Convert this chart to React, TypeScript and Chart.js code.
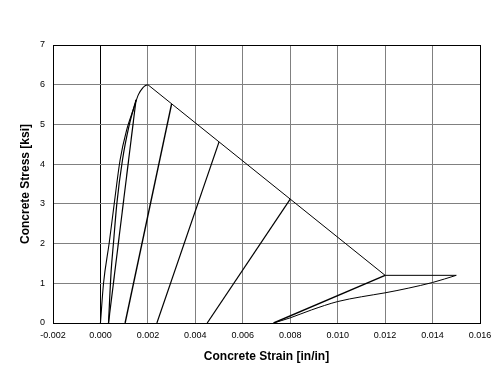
import React, { useEffect, useRef } from "react";
import { Chart, registerables } from "chart.js";

Chart.register(...registerables);

// x ticks and y ticks
const xTickMin = -0.002;
const xTickMax = 0.016;
const xTickStep = 0.002;
const yTickMin = 0;
const yTickMax = 7;
const yTickStep = 1;

// Envelope, ascending part: strain [in/in], stress [ksi]
const envelopeRiseStrain = [0, 0.00013, 0.00037, 0.00058, 0.00083, 0.0011, 0.0014, 0.0016, 0.0018, 0.0019, 0.002];
const envelopeRiseStress = [0, 1.0, 2.02, 3.0, 4.11, 4.85, 5.4, 5.75, 5.93, 5.98, 6.0];
// Envelope, softening part
const envelopeFallStrain = [0.002, 0.012, 0.015];
const envelopeFallStress = [6.0, 1.2, 1.2];

// First small cycle (two branches)
const cycle1aStrain = [0.00034, 0.00045, 0.00055, 0.00069, 0.00093, 0.0012, 0.0015];
const cycle1aStress = [0, 1.3, 2.02, 3.0, 4.11, 4.95, 5.62];
const cycle1bStrain = [0.00034, 0.0015];
const cycle1bStress = [0, 5.62];

// Straight reloading branches
const reloadAStrain = [0.00104, 0.003];
const reloadAStress = [0, 5.52];
const reloadBStrain = [0.00238, 0.005];
const reloadBStress = [0, 4.56];
const reloadCStrain = [0.0045, 0.008];
const reloadCStress = [0, 3.12];
const reloadDStrain = [0.0073, 0.012];
const reloadDStress = [0, 1.2];

// Last unloading curve
const unloadStrain = [0.0073, 0.008, 0.0089, 0.01, 0.011, 0.012, 0.013, 0.014, 0.015];
const unloadStress = [0, 0.13, 0.33, 0.54, 0.66, 0.76, 0.88, 1.02, 1.2];

const toPoints = (xs: number[], ys: number[]) => xs.map((x, i) => ({ x, y: ys[i] }));

const seriesList = [
  { strain: envelopeRiseStrain, stress: envelopeRiseStress, width: 1.1, smooth: true },
  { strain: envelopeFallStrain, stress: envelopeFallStress, width: 1, smooth: false },
  { strain: cycle1aStrain, stress: cycle1aStress, width: 1.2, smooth: true },
  { strain: cycle1bStrain, stress: cycle1bStress, width: 1.2, smooth: false },
  { strain: reloadAStrain, stress: reloadAStress, width: 1.4, smooth: false },
  { strain: reloadBStrain, stress: reloadBStress, width: 1.2, smooth: false },
  { strain: reloadCStrain, stress: reloadCStress, width: 1.2, smooth: false },
  { strain: reloadDStrain, stress: reloadDStress, width: 1.4, smooth: false },
  { strain: unloadStrain, stress: unloadStress, width: 1, smooth: true },
];

const framePlugin = {
  id: "frame",
  beforeDatasetsDraw(chart: any) {
    const { ctx, chartArea } = chart;
    ctx.save();
    ctx.strokeStyle = "#000";
    ctx.lineWidth = 1;
    ctx.strokeRect(
      Math.round(chartArea.left) + 0.5,
      Math.round(chartArea.top) + 0.5,
      Math.round(chartArea.right - chartArea.left),
      Math.round(chartArea.bottom - chartArea.top)
    );
    ctx.restore();
  },
};

export default function App() {
  const canvasRef = useRef<HTMLCanvasElement | null>(null);

  useEffect(() => {
    if (!canvasRef.current) return;
    const font = "'Liberation Sans', Arial, sans-serif";
    const chart = new Chart(canvasRef.current, {
      type: "line",
      data: {
        datasets: seriesList.map((s) => ({
          data: toPoints(s.strain, s.stress),
          borderColor: "#000",
          backgroundColor: "#000",
          borderWidth: s.width,
          pointRadius: 0,
          tension: 0,
          cubicInterpolationMode: s.smooth ? "monotone" : "default",
          fill: false,
        })) as any,
      },
      options: {
        animation: false,
        responsive: false,
        devicePixelRatio: 1,
        parsing: false,
        layout: { padding: { top: 45, right: 19, left: 0, bottom: 0 } },
        plugins: {
          legend: { display: false },
          tooltip: { enabled: false },
        },
        scales: {
          x: {
            type: "linear",
            min: xTickMin,
            max: xTickMax,
            afterFit: (scale: any) => {
              scale.height = 67;
            },
            ticks: {
              stepSize: xTickStep,
              padding: 7,
              color: "#000",
              font: { family: font, size: 9 },
              maxRotation: 0,
              callback: (v: any) => Number(v).toFixed(3),
            },
            grid: {
              color: (ctx: any) => (ctx.tick && Math.abs(ctx.tick.value) < 1e-9 ? "#000" : "#808080"),
              lineWidth: 1,
              drawTicks: false,
            },
            border: { display: true, color: "#000", width: 1 },
            title: {
              display: true,
              text: "Concrete Strain [in/in]",
              color: "#000",
              font: { family: font, size: 12, weight: "bold" },
              padding: { top: 0, bottom: 26 },
            },
          },
          y: {
            type: "linear",
            min: yTickMin,
            max: yTickMax,
            afterFit: (scale: any) => {
              scale.width = 53;
            },
            ticks: {
              stepSize: yTickStep,
              padding: 8,
              color: "#000",
              font: { family: font, size: 9 },
            },
            grid: {
              color: "#808080",
              lineWidth: 1,
              drawTicks: false,
            },
            border: { display: true, color: "#000", width: 1 },
            title: {
              display: true,
              text: "Concrete Stress [ksi]",
              color: "#000",
              font: { family: font, size: 12, weight: "bold" },
              padding: { top: 18, bottom: 0 },
            },
          },
        },
      } as any,
      plugins: [framePlugin],
    });
    return () => chart.destroy();
  }, []);

  return (
    <div style={{ position: "absolute", left: 0, top: 0, width: 499, height: 390, background: "#fff" }}>
      <canvas ref={canvasRef} width={499} height={390} style={{ display: "block" }} />
    </div>
  );
}
